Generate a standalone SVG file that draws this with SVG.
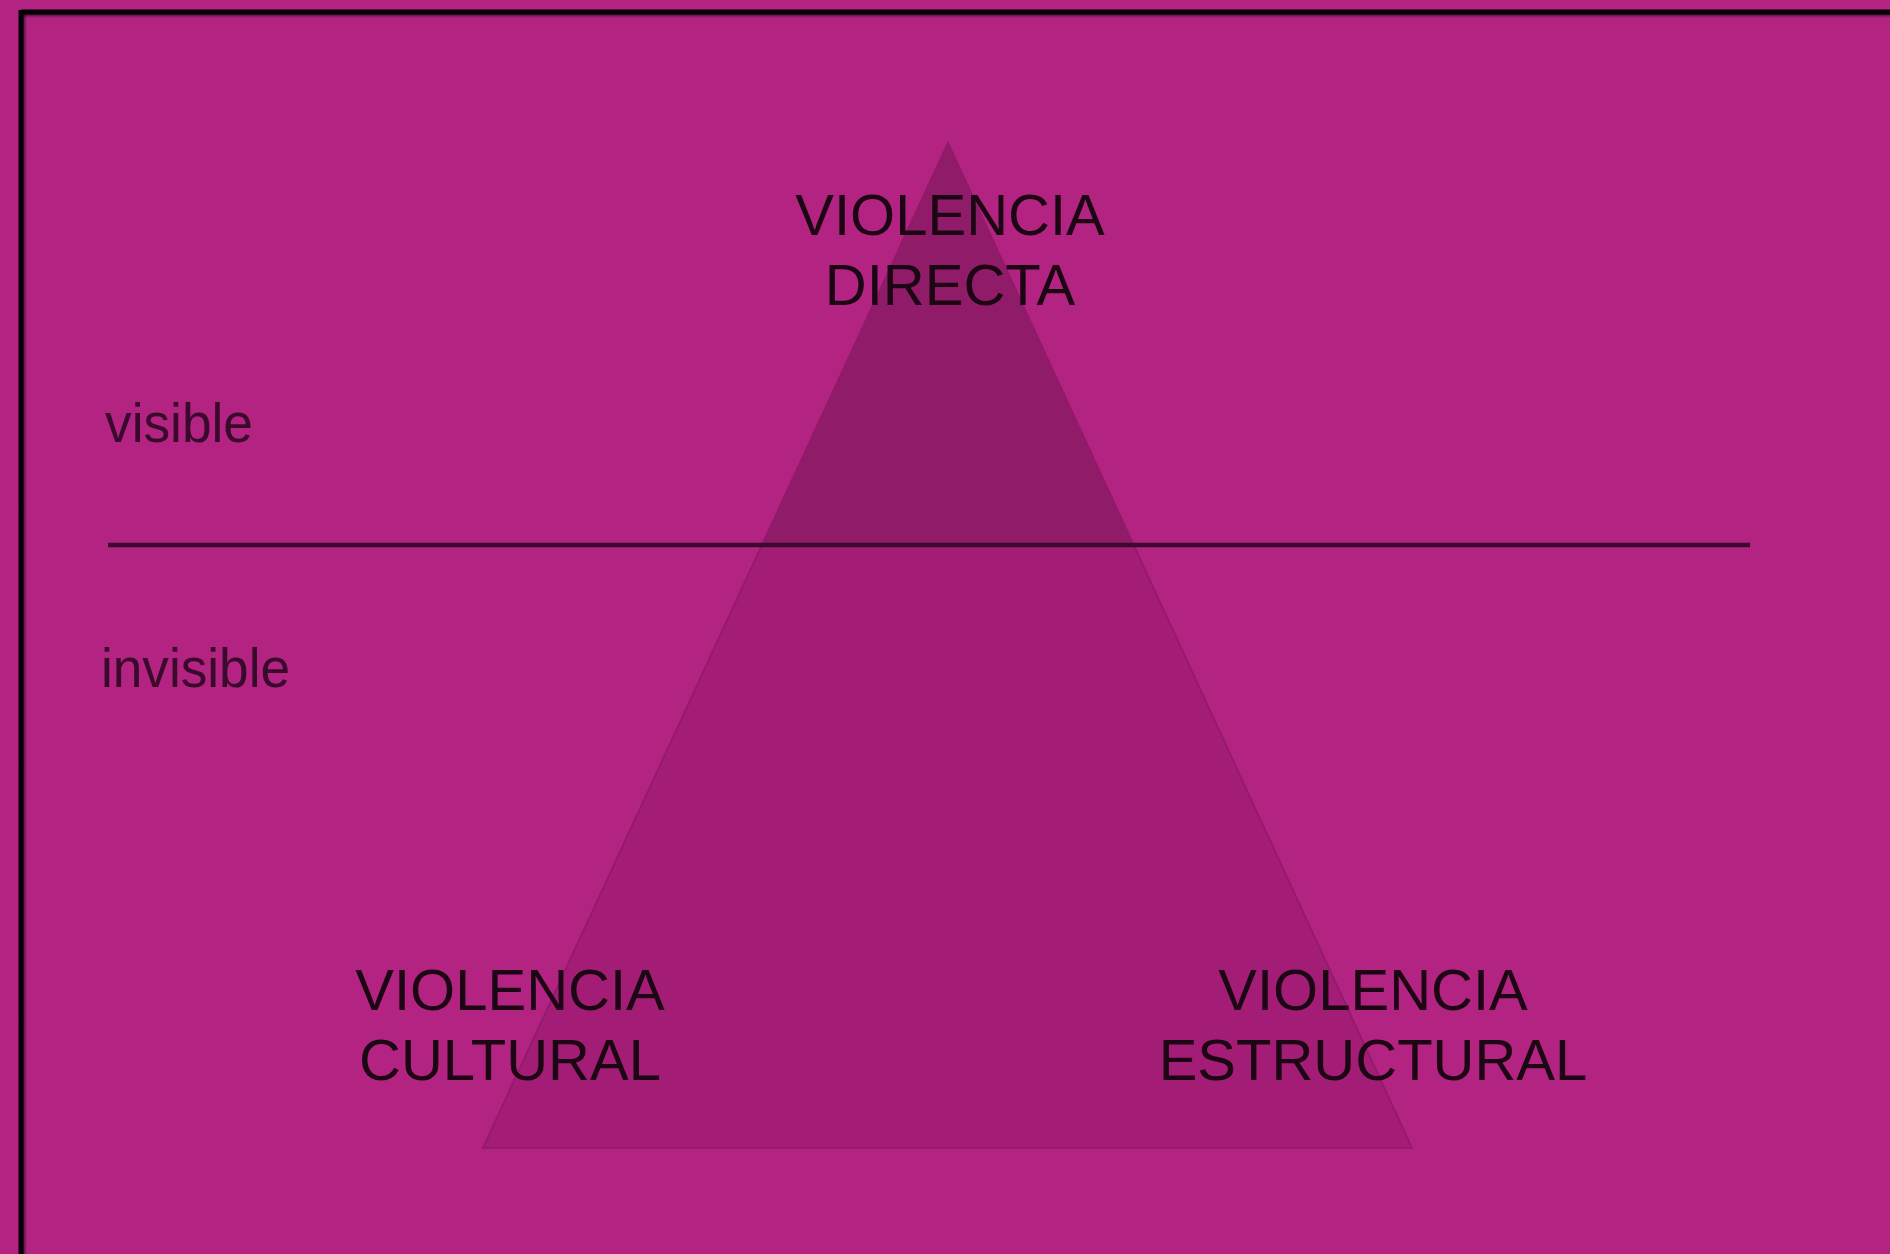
<svg xmlns="http://www.w3.org/2000/svg" width="1890" height="1254" viewBox="0 0 1890 1254">
<style>
.lbl{font-family:"Liberation Sans",Arial,sans-serif;font-size:58px;fill:#1c0614;text-anchor:middle}
.side{font-family:"Liberation Sans",Arial,sans-serif;font-size:56px;fill:#3a0a2c}
</style>
<defs>
<linearGradient id="shL" x1="0" y1="0" x2="1" y2="0"><stop offset="0" stop-color="#000" stop-opacity="0.6"/><stop offset="1" stop-color="#000" stop-opacity="0"/></linearGradient>
<linearGradient id="shT" x1="0" y1="0" x2="0" y2="1"><stop offset="0" stop-color="#000" stop-opacity="0.6"/><stop offset="1" stop-color="#000" stop-opacity="0"/></linearGradient>
</defs>
<rect width="1890" height="1254" fill="#b32382"/>
<g id="frame">
<rect x="23" y="14" width="1867" height="4" fill="url(#shT)"/>
<rect x="23" y="14" width="4" height="1240" fill="url(#shL)"/>
<line x1="21" y1="12" x2="1890" y2="12" stroke="#050003" stroke-width="5"/>
<line x1="21" y1="10" x2="21" y2="1254" stroke="#050003" stroke-width="5"/>
</g>
<g id="pyramid">
<polygon points="948,143 483,1148 1412,1148" fill="#a31d77" stroke="#951a6d" stroke-width="2"/>
<polygon points="948,143 762,545 1134,545" fill="#8f1b69"/>
</g>
<g id="connectors">
<line x1="108" y1="545" x2="1750" y2="545" stroke="#3c0a2d" stroke-width="4.5"/>
</g>
<g id="visible"><text class="side" x="105" y="442" textLength="148" lengthAdjust="spacingAndGlyphs">visible</text></g>
<g id="invisible"><text class="side" x="101" y="687" textLength="189" lengthAdjust="spacingAndGlyphs">invisible</text></g>
<g id="directa"><text class="lbl" x="950" y="235">VIOLENCIA</text><text class="lbl" x="950" y="305">DIRECTA</text></g>
<g id="cultural"><text class="lbl" x="510" y="1010">VIOLENCIA</text><text class="lbl" x="510" y="1080">CULTURAL</text></g>
<g id="estructural"><text class="lbl" x="1373" y="1010">VIOLENCIA</text><text class="lbl" x="1373" y="1080">ESTRUCTURAL</text></g>
</svg>
